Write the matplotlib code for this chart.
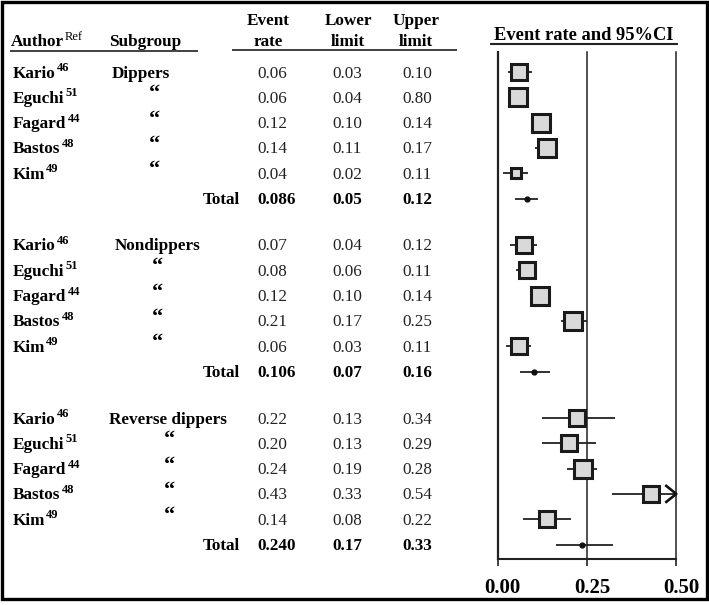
import matplotlib
matplotlib.use("Agg")
import matplotlib.pyplot as plt
from matplotlib.patches import Rectangle
from matplotlib.transforms import ScaledTranslation

plt.rcParams['font.family'] = ['Liberation Serif', 'DejaVu Serif']

# ---------------- data ----------------
authors = ["Kario", "Eguchi", "Fagard", "Bastos", "Kim"]
refs = ["46", "51", "44", "48", "49"]
subgroups = ["Dippers", "Nondippers", "Reverse dippers"]

event_rate_txt = [["0.06", "0.06", "0.12", "0.14", "0.04"],
                  ["0.07", "0.08", "0.12", "0.21", "0.06"],
                  ["0.22", "0.20", "0.24", "0.43", "0.14"]]
lower_txt = [["0.03", "0.04", "0.10", "0.11", "0.02"],
             ["0.04", "0.06", "0.10", "0.17", "0.03"],
             ["0.13", "0.13", "0.19", "0.33", "0.08"]]
upper_txt = [["0.10", "0.80", "0.14", "0.17", "0.11"],
             ["0.12", "0.11", "0.14", "0.25", "0.11"],
             ["0.34", "0.29", "0.28", "0.54", "0.22"]]
total_event_txt = ["0.086", "0.106", "0.240"]
total_lower_txt = ["0.05", "0.07", "0.17"]
total_upper_txt = ["0.12", "0.16", "0.33"]

# values as drawn in the forest plot
est = [[0.061, 0.057, 0.120, 0.138, 0.051],
       [0.073, 0.082, 0.119, 0.210, 0.061],
       [0.222, 0.200, 0.238, 0.430, 0.138]]
ci_lo = [[0.028, 0.040, 0.100, 0.104, 0.016],
         [0.034, 0.051, 0.100, 0.177, 0.023],
         [0.123, 0.123, 0.194, 0.319, 0.072]]
ci_hi = [[0.095, 0.080, 0.140, 0.168, 0.086],
         [0.109, 0.107, 0.140, 0.249, 0.092],
         [0.327, 0.275, 0.277, 0.540, 0.204]]
weights = [[0.90, 1.00, 1.00, 1.00, 0.64],
           [0.90, 0.86, 1.00, 1.00, 0.90],
           [0.86, 0.86, 1.00, 0.90, 0.90]]
total_est = [0.081, 0.103, 0.235]
total_lo = [0.048, 0.062, 0.163]
total_hi = [0.112, 0.146, 0.324]

xticks = [0.0, 0.25, 0.50]
xticklabels = ["0.00", "0.25", "0.50"]
xmax = 0.50

# ---------------- layout ----------------
W, H = 709, 605
fig = plt.figure(figsize=(W / 100, H / 100), dpi=100)
bg = fig.add_axes([0, 0, 1, 1])
bg.set_xlim(0, W)
bg.set_ylim(H, 0)
bg.axis('off')

block_top = [72, 245, 418]
step = 25.3
FS = 12.3
SUP = 9
BL = 5.5  # baseline offset from row centre

renderer = fig.canvas.get_renderer()


def sup_after(t, s, weight='bold'):
    bb = t.get_window_extent(renderer)
    x_end = bg.transData.inverted().transform((bb.x1, bb.y0))[0]
    x0, y0 = t.get_position()
    bg.text(x_end + 1.0, y0 - 6.5, s, fontsize=SUP, fontweight=weight,
            ha='left', va='baseline')


# headers
t = bg.text(11, 46, "Author", fontsize=FS, fontweight='bold', va='baseline')
sup_after(t, "Ref", weight='normal')
bg.text(109, 46, "Subgroup", fontsize=FS, fontweight='bold', va='baseline')
col_x = [268, 348, 416]
for cx, (l1, l2) in zip(col_x, [("Event", "rate"), ("Lower", "limit"), ("Upper", "limit")]):
    bg.text(cx, 25, l1, fontsize=FS, fontweight='bold', ha='center', va='baseline')
    bg.text(cx, 46, l2, fontsize=FS, fontweight='bold', ha='center', va='baseline')
bg.plot([10, 198], [50.5, 50.5], color='#333333', lw=1.3, solid_capstyle='butt')
bg.plot([232, 457], [49.5, 49.5], color='#333333', lw=1.3, solid_capstyle='butt')

bg.text(584, 40, "Event rate and 95%CI", fontsize=13.3, fontweight='bold',
        ha='center', va='baseline')
bg.plot([490, 678], [43.5, 43.5], color='#222222', lw=1.5, solid_capstyle='butt')

val_x = [257, 332, 402]
quote_x = [154, 157, 169]
sub_x = [112, 115, 109]

for b in range(3):
    for j in range(5):
        y = block_top[b] + j * step
        t = bg.text(13, y + BL, authors[j], fontsize=FS, fontweight='bold', va='baseline')
        sup_after(t, refs[j])
        if j == 0:
            bg.text(sub_x[b], y + BL, subgroups[b], fontsize=FS, fontweight='bold', va='baseline')
        else:
            bg.text(quote_x[b], y + 2, "\u201c", fontsize=16, fontweight='bold',
                    ha='center', va='baseline')
        for cx, arr in zip(val_x, [event_rate_txt, lower_txt, upper_txt]):
            bg.text(cx, y + BL, arr[b][j], fontsize=FS, va='baseline', color='#222222')
    y = block_top[b] + 5 * step
    bg.text(240, y + BL, "Total", fontsize=FS, fontweight='bold', ha='right', va='baseline')
    for cx, arr in zip(val_x, [total_event_txt, total_lower_txt, total_upper_txt]):
        bg.text(cx, y + BL, arr[b], fontsize=FS, fontweight='bold', va='baseline')

# frame
bg.add_patch(Rectangle((1.5, 1.5), W - 3.5, 597.5, fill=False, ec='black', lw=2.4))

# ---------------- forest plot ----------------
ax_left, ax_right, ax_top, ax_bot = 497.7, 676.3, 52, 559
ax = fig.add_axes([ax_left / W, (H - ax_bot) / H, (ax_right - ax_left) / W, (ax_bot - ax_top) / H])
ax.set_xlim(0, xmax)
ax.set_ylim(ax_bot, ax_top)
ax.patch.set_alpha(0)
for s in ['top', 'right', 'left']:
    ax.spines[s].set_visible(False)
ax.spines['bottom'].set_linewidth(1.5)
ax.spines['bottom'].set_color('#222222')
ax.set_yticks([])
ax.set_xticks(xticks)
ax.set_xticklabels(xticklabels, fontsize=15, fontweight='bold')
ax.tick_params(axis='x', direction='out', length=5, width=1.2, color='#222222', pad=9)
for lab in ax.get_xticklabels():
    lab.set_transform(lab.get_transform() + ScaledTranslation(5 / 100, 0, fig.dpi_scale_trans))

ax.axvline(0, color='#222222', lw=1.6, clip_on=False)
ax.axvline(0.25, color='#222222', lw=1.1, clip_on=False)
ax.axvline(0.5, color='#222222', lw=1.1, clip_on=False)

px_per_unit = (ax_right - ax_left) / xmax
for b in range(3):
    for j in range(5):
        y = block_top[b] + j * step
        lo, hi = ci_lo[b][j], min(ci_hi[b][j], xmax)
        ax.plot([lo, hi], [y, y], color='#222222', lw=1.3, solid_capstyle='butt',
                clip_on=False, zorder=2)
        if ci_hi[b][j] > xmax:
            d = 10 / px_per_unit
            ax.plot([xmax - d, xmax, xmax - d], [y - 8, y, y + 8], color='#111111',
                    lw=1.9, clip_on=False, zorder=4)
        outer = 21.5 * weights[b][j]
        ax.plot([est[b][j]], [y], marker='s', ms=(outer - 3) * 0.72,
                mfc='#d9d9d9', mec='#1a1a1a', mew=2.2, ls='none', zorder=3, clip_on=False)
    y = block_top[b] + 5 * step
    ax.plot([total_lo[b], total_hi[b]], [y, y], color='#222222', lw=1.3,
            solid_capstyle='butt', zorder=2)
    ax.plot([total_est[b]], [y], marker='o', ms=3.5, color='#111111', ls='none', zorder=3)

fig.savefig("out.png", dpi=100)
